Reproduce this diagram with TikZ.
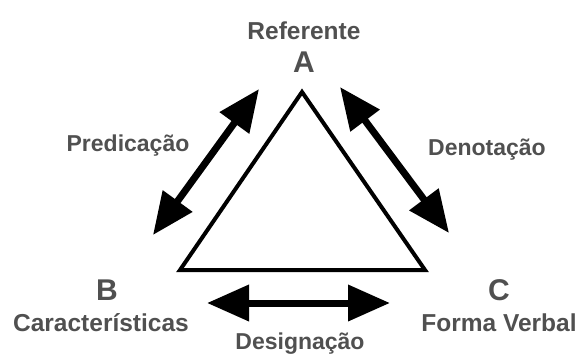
\documentclass[tikz,border=0pt]{standalone}
\usepackage{fontspec}
\setmainfont{Liberation Sans}
\usetikzlibrary{arrows.meta,positioning}
\definecolor{Ink}{HTML}{505050}
\definecolor{Edge}{HTML}{000000}
\tikzset{
  cornerletter/.style={inner sep=0pt,text=Ink,font=\fontsize{30}{32}\selectfont\bfseries},
  rolelabel/.style={inner sep=0pt,text=Ink,font=\fontsize{24.5}{27}\selectfont\bfseries},
  linklabel/.style={inner sep=0pt,text=Ink,font=\fontsize{23}{25}\selectfont\bfseries},
  sigline/.style={draw=Edge,line width=4pt,line join=miter},
  twoway/.style={{Triangle[length=42pt,width=35pt]}-{Triangle[length=42pt,width=35pt]},draw=Edge,line width=7pt}
}

\begin{document}
\begin{tikzpicture}[x=1pt,y=-1pt,node distance=12pt]
  \useasboundingbox (0,0) rectangle (581,354);
  % semiotic triangle
  \coordinate (a) at (302,92);
  \coordinate (b) at (180,270);
  \coordinate (c) at (425,270);
  \draw[sigline] (a) -- (b) -- (c) -- cycle;
  % corners
  \node[cornerletter] (letA) at (304,62) {A};
  \node[cornerletter] (letB) at (107,290) {B};
  \node[cornerletter] (letC) at (499,290) {C};
  \node[rolelabel,above=of letA] (ref) {Referente};
  \node[rolelabel,below=13pt of letB,xshift=-6pt] (carac) {Características};
  \node[rolelabel,below=13pt of letC] (forma) {Forma Verbal};
  % relations
  \coordinate (pA) at (259,89);
  \coordinate (pB) at (153,235);
  \coordinate (dA) at (340,87);
  \coordinate (dC) at (449,233);
  \coordinate (gB) at (207,303);
  \coordinate (gC) at (390,303);
  \draw[twoway] (pB) -- (pA);
  \draw[twoway] (dA) -- (dC);
  \draw[twoway] (gB) -- (gC);
  \node[linklabel] (pred) at (128,146) {Predicação};
  \node[linklabel] (deno) at (487,150) {Denotação};
  \node[linklabel] (desig) at (300,344) {Designação};
\end{tikzpicture}
\end{document}
